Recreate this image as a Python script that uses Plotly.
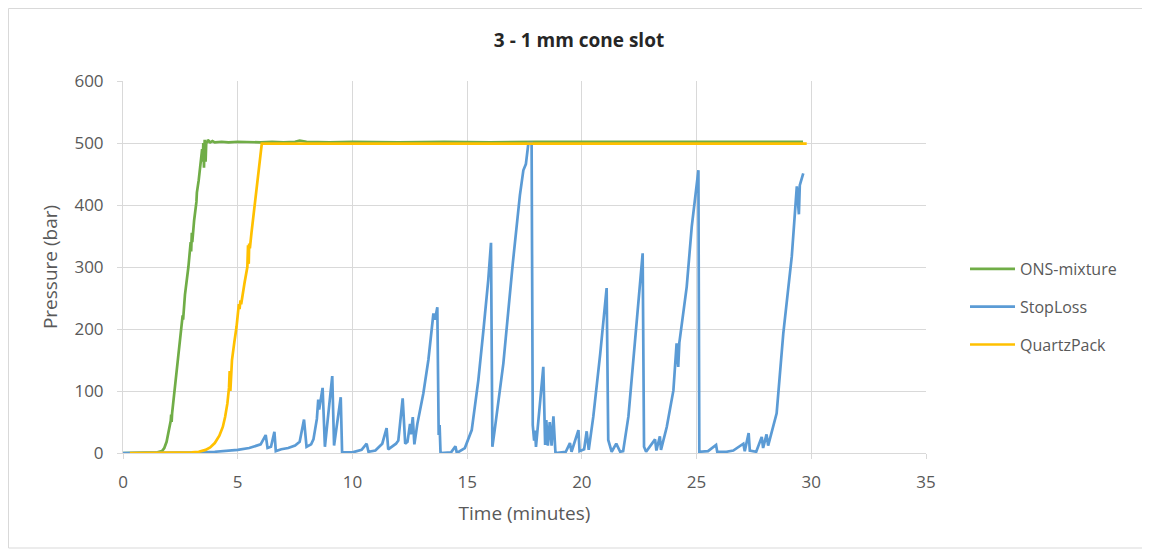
import plotly.graph_objects as go

# ---------------- data ----------------
ons_t = [0, 0.5, 1.0, 1.5, 1.7, 1.8, 1.9, 2.0, 2.08, 2.1, 2.12, 2.14, 2.3, 2.5, 2.6,
         2.62, 2.64, 2.7, 2.85, 2.95, 2.97, 3.0, 3.02, 3.05, 3.1, 3.2, 3.22, 3.3, 3.4, 3.45,
         3.48, 3.5, 3.53, 3.56, 3.6, 3.63, 3.66, 3.7, 3.8, 3.9, 4.0, 4.3, 4.6, 5.0, 5.5,
         6.0, 6.5, 7.0, 7.5, 7.7, 8.0, 9, 10, 12, 14, 16, 18, 20, 22, 24, 26, 28, 29.64]
ons_p = [0, 0, 0, 1, 3, 8, 18, 35, 52, 62, 50, 64, 120, 190, 222,
         215, 228, 255, 300, 340, 325, 355, 340, 362, 375, 405, 420, 440, 470, 490,
         470, 500, 460, 505, 470, 502, 500, 505, 501, 503, 501, 502, 501, 502, 501,
         501, 502, 501, 502, 504, 502, 501, 502, 501, 502, 501, 502, 502, 501, 502, 501, 502, 502]

stoploss_t = [0, 1, 2, 3, 3.5, 4.0, 4.5, 5.0, 5.5, 5.8, 6.0, 6.22, 6.3, 6.45, 6.6, 6.66,
              6.9, 7.2, 7.5, 7.7, 7.89, 8.0, 8.2, 8.3, 8.45, 8.51, 8.55, 8.7, 8.8, 9.12,
              9.2, 9.49, 9.55, 10.0, 10.4, 10.62, 10.7, 11.0, 11.3, 11.49, 11.56, 11.9,
              12.0, 12.19, 12.3, 12.4, 12.51, 12.55, 12.63, 12.7, 12.83, 13.09, 13.31,
              13.53, 13.6, 13.7, 13.76, 13.8, 13.84, 14.3, 14.49, 14.55, 14.9, 15.2,
              15.49, 15.71, 15.92, 16.04, 16.1, 16.2, 16.58, 16.99, 17.3, 17.45, 17.56,
              17.67, 17.81, 17.86, 17.92, 17.96, 18.0, 18.32, 18.4, 18.45, 18.52, 18.6,
              18.68, 18.76, 18.85, 19.3, 19.48, 19.55, 19.85, 19.9, 20.1, 20.21, 20.3,
              20.5, 20.8, 21.08, 21.15, 21.3, 21.5, 21.67, 21.8, 22.03, 22.32, 22.65,
              22.71, 22.8, 23.19, 23.25, 23.4, 23.45, 23.7, 23.99, 24.13, 24.2, 24.25,
              24.57, 24.79, 25.08, 25.12, 25.5, 25.85, 25.9, 26.3, 26.6, 27.04, 27.1,
              27.27, 27.32, 27.6, 27.84, 27.9, 28.05, 28.12, 28.27, 28.49, 28.78, 29.15,
              29.37, 29.46, 29.5, 29.65]
stoploss_p = [0, 0, 0, 0, 1, 2, 3, 5, 8, 12, 14, 29, 8, 10, 34, 3,
              6, 8, 12, 18, 54, 10, 14, 22, 55, 86, 70, 105, 10, 124,
              12, 90, 1, 1, 5, 15, 2, 4, 15, 40, 6, 15,
              20, 88, 15, 18, 47, 30, 58, 14, 47, 96, 150,
              225, 215, 235, 29, 45, 0, 1, 11, 0, 8, 37,
              118, 198, 279, 339, 10, 37, 145, 306, 416, 456, 466,
              500, 500, 45, 20, 36, 10, 139, 13, 53, 12, 50,
              12, 59, 0, 2, 16, 2, 37, 3, 6, 35, 5,
              59, 160, 266, 21, 2, 15, 2, 3, 59, 188, 322,
              10, 2, 22, 4, 27, 5, 42, 101, 177, 139, 178,
              268, 365, 456, 2, 3, 13, 2, 2, 4, 15, 3,
              32, 4, 2, 26, 8, 30, 12, 32, 64, 193, 317,
              430, 385, 432, 451]

quartz_t = [0.3, 1, 2, 3, 3.3, 3.6, 3.8, 4.0, 4.2, 4.35, 4.45, 4.55, 4.62, 4.65, 4.68,
            4.72, 4.75, 4.85, 4.95, 5.05, 5.08, 5.12, 5.15, 5.3, 5.42, 5.45, 5.48, 5.5,
            5.53, 5.6, 5.75, 5.9, 6.05, 6.5, 7, 8, 10, 12, 14, 16, 18, 20, 22, 24, 26, 28, 29.8]
quartz_p = [0, 0, 0, 1, 2, 5, 9, 16, 28, 42, 58, 80, 105, 132, 100,
            135, 150, 178, 204, 240, 232, 246, 240, 275, 300, 335, 305, 338,
            330, 355, 403, 450, 499, 499, 499, 499, 499, 499, 499, 499, 499, 499, 499, 499, 499, 499, 499]

series_names = ["ONS-mixture", "StopLoss", "QuartzPack"]
series_colors = ["#70AD47", "#5B9BD5", "#FFC000"]

x_ticks = [0, 5, 10, 15, 20, 25, 30, 35]
y_ticks = [0, 100, 200, 300, 400, 500, 600]

# ---------------- figure ----------------
FONT = "'Open Sans', Lato, sans-serif"
GREY = "#595959"
GRID = "#d9d9d9"

# page body has an 8px margin, so the figure is sized to fill the rest of the window
W, H = 1142, 545
ML, MR, MT, MB = 115, 224, 73, 100
PW, PH = W - ML - MR, H - MT - MB

fig = go.Figure()
for name, color, tx, py in zip(series_names, series_colors,
                               [ons_t, stoploss_t, quartz_t],
                               [ons_p, stoploss_p, quartz_p]):
    fig.add_trace(go.Scatter(x=tx, y=py, mode="lines", name=name, legendgroup=name,
                             line=dict(color=color, width=2.7)))

fig.update_layout(
    width=W, height=H,
    margin=dict(l=ML, r=MR, t=MT, b=MB),
    paper_bgcolor="white", plot_bgcolor="white",
    font=dict(family=FONT, color=GREY, size=16),
    title=dict(text="<b>3 - 1 mm cone slot</b>", x=0.5, xref="container", xanchor="center",
               y=1 - 32 / H, yref="container", yanchor="middle",
               font=dict(family=FONT, size=19, color="#262626")),
    legend=dict(x=(957 - ML) / PW, xanchor="left", y=(H - MB - 299) / PH, yanchor="middle",
                font=dict(family=FONT, size=16, color=GREY), tracegroupgap=14,
                itemwidth=45, bgcolor="rgba(0,0,0,0)"),
    showlegend=True,
)

fig.update_xaxes(range=[0, 35], tickvals=x_ticks, showgrid=True, gridcolor=GRID, gridwidth=1,
                 showline=True, linecolor=GRID, linewidth=1, ticks="outside", ticklen=5,
                 tickcolor=GRID, zeroline=False, tickfont=dict(size=17, color=GREY),
                 ticklabelstandoff=9,
                 title=dict(text="Time (minutes)", font=dict(size=19, color=GREY), standoff=14))
fig.update_yaxes(range=[0, 600], tickvals=y_ticks, showgrid=True, gridcolor=GRID, gridwidth=1,
                 showline=True, linecolor=GRID, linewidth=1, ticks="outside", ticklen=5,
                 tickcolor=GRID, zeroline=False, tickfont=dict(size=17, color=GREY),
                 ticklabelstandoff=10,
                 title=dict(text="Pressure (bar)", font=dict(size=19, color=GREY), standoff=11))

# chart-area border
fig.add_shape(type="rect", xref="paper", yref="paper",
              x0=(0.5 - ML) / PW, x1=(1137 - ML) / PW,
              y0=(H - MB - 540) / PH, y1=(H - MB - 0.5) / PH,
              line=dict(color=GRID, width=1), fillcolor="rgba(0,0,0,0)", layer="below")

fig.write_html("out.html")
